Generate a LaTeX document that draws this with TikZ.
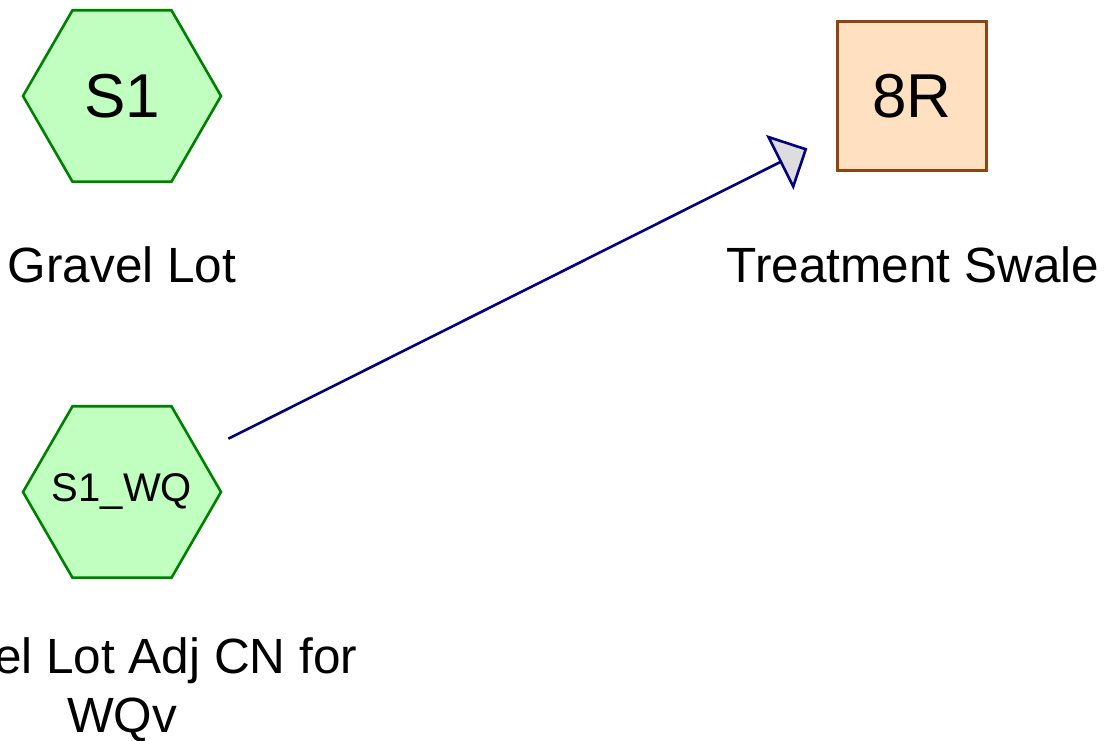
\documentclass[tikz,border=0pt]{standalone}
\usepackage{fontspec}
\setmainfont{Liberation Sans}
\usetikzlibrary{shapes.geometric,arrows.meta}
\definecolor{hexfill}{HTML}{C0FFC0}
\definecolor{hexdraw}{HTML}{008000}
\definecolor{pondfill}{HTML}{FFE0C0}
\definecolor{ponddraw}{HTML}{8B4513}
\definecolor{linkcol}{HTML}{000080}
\definecolor{tipfill}{HTML}{DDDDDD}
\tikzset{
  subcat/.style={regular polygon, regular polygon sides=6, minimum size=198pt,
    inner sep=0pt, outer sep=0pt, fill=hexfill, draw=hexdraw, line width=2.6pt},
  pondbox/.style={rectangle, minimum size=149pt, inner sep=0pt, outer sep=0pt,
    fill=pondfill, draw=ponddraw, line width=2.6pt},
  lbl/.style={font=\fontsize{49.5}{59}\selectfont, align=center, inner sep=0pt},
  link/.style={draw=linkcol, line width=2.6pt,
    -{Triangle[length=31pt,width=61pt,fill=tipfill]}}
}
\begin{document}
\begin{tikzpicture}[x=1pt,y=-1pt]
\useasboundingbox (0,0) rectangle (1112,740);
\node[subcat, font=\fontsize{62}{62}\selectfont] (s1) at (122,96) {S1};
\node[subcat, font=\fontsize{40}{40}\selectfont] (s1wq) at (122,492) {\makebox[0pt]{S1\_WQ}};
\node[pondbox, font=\fontsize{62}{62}\selectfont] (r8) at (912,96) {8R};
\node[lbl] (s1lbl) at (122,265) {Gravel Lot};
\node[lbl] (s1wqlbl) at (122,690) {Gravel Lot Adj CN for\\WQv};
\node[lbl] (r8lbl) at (913,265) {Treatment Swale};
\draw[link, shorten <=119pt, shorten >=117pt] (s1wq.center) -- (r8.center);
\end{tikzpicture}
\end{document}
